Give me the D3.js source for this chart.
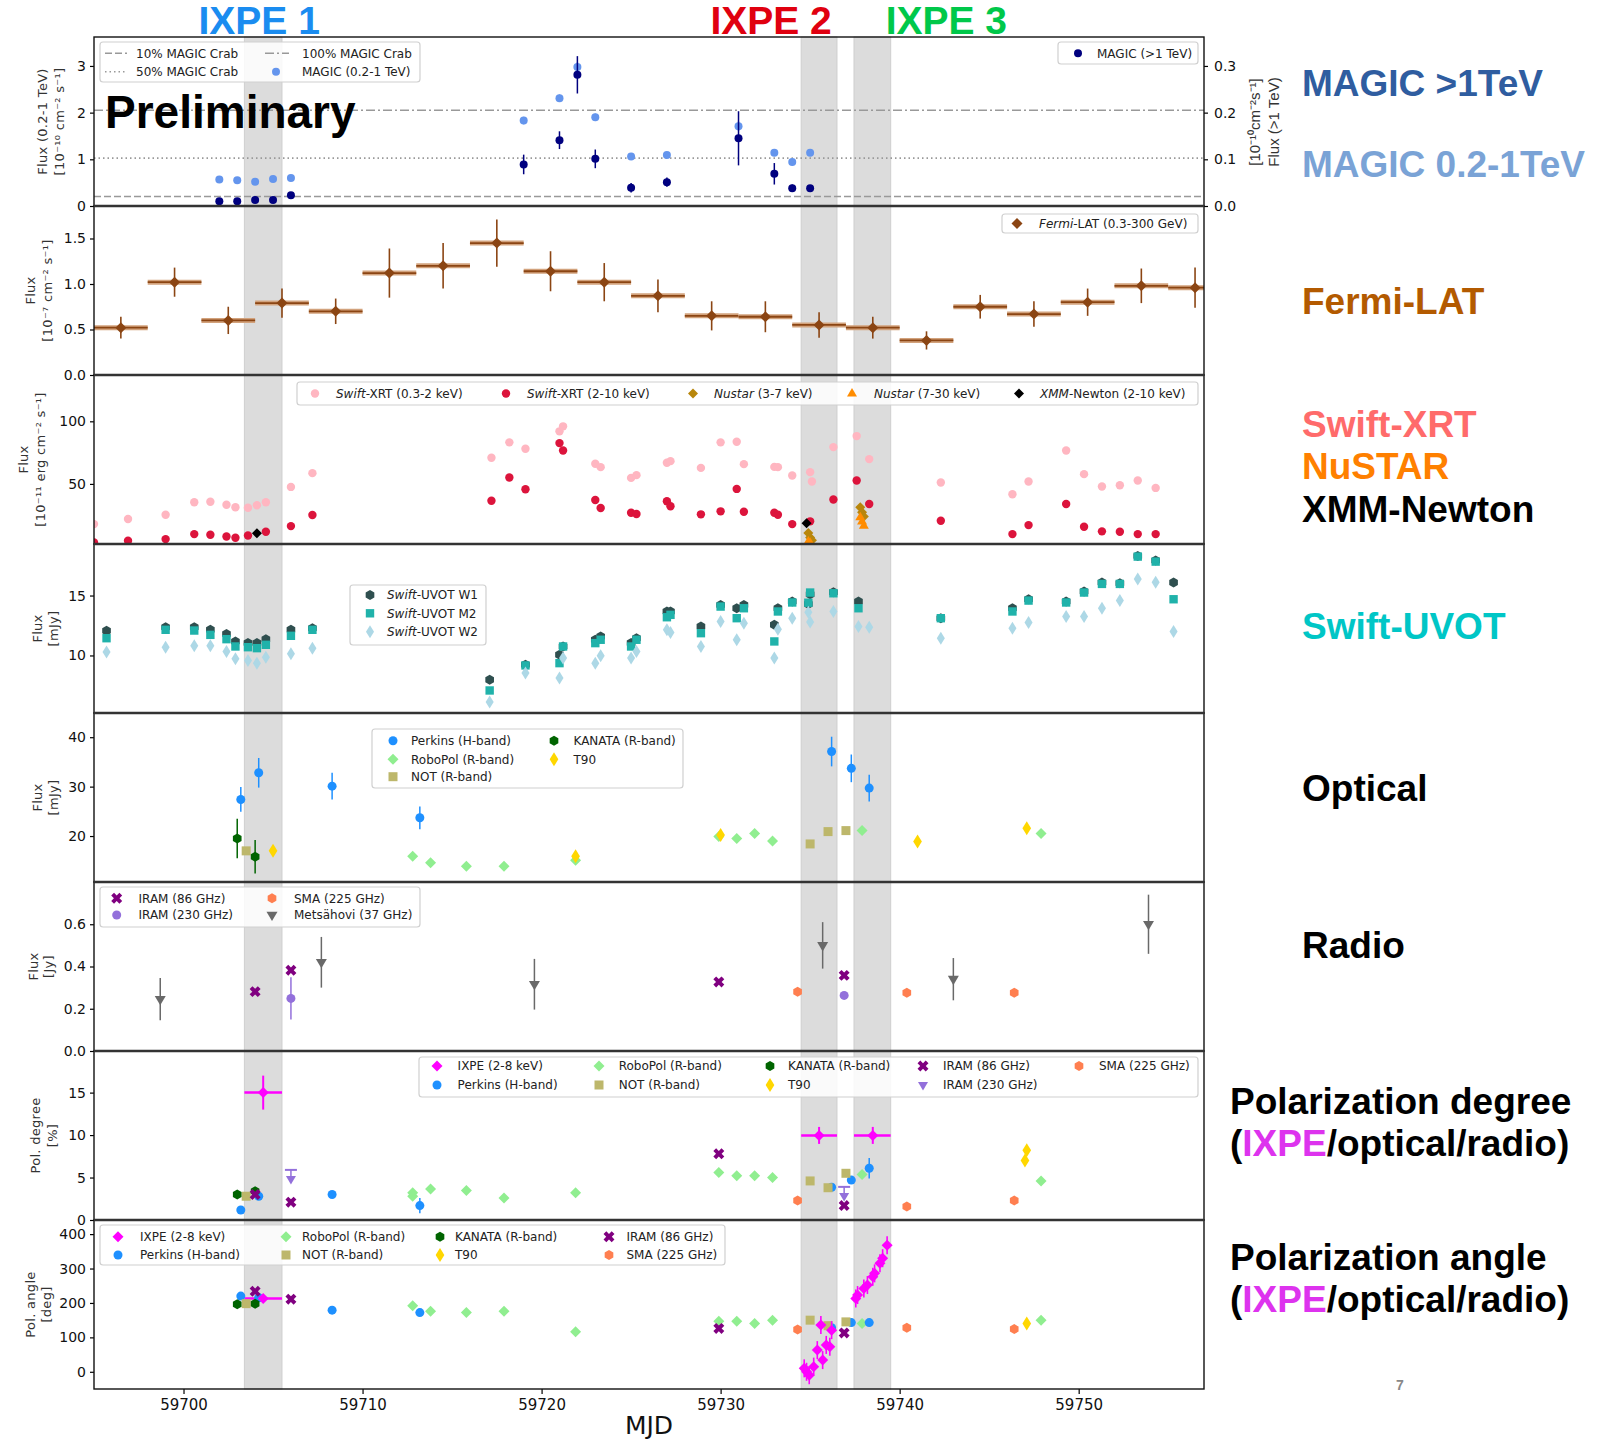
<!DOCTYPE html>
<html><head><meta charset="utf-8">
<script src="https://cdn.jsdelivr.net/npm/d3@7/dist/d3.min.js"></script>
<style>
body{margin:0;background:#fff}
svg{font-family:"DejaVu Sans",sans-serif}
</style>
</head><body>
<svg id="c" width="1598" height="1440"></svg>
<script>
// ---------------- DATA ----------------
const mjdTicks = [59700, 59710, 59720, 59730, 59740, 59750];
const ixpeWindows = [[59703.4, 59705.5], [59734.5, 59736.5], [59737.45, 59739.5]];
const ixpeTitles = ["IXPE 1", "IXPE 2", "IXPE 3"];

// MAGIC 0.2-1 TeV [MJD, flux, err] (1e-10 cm^-2 s^-1)
const magicLow = [[59702,0.57,0.06],[59703,0.55,0.06],[59704,0.52,0.06],[59705,0.58,0.06],[59706,0.60,0.06],
  [59719,1.83,0.08],[59721,2.31,0.08],[59722,2.98,0.1],[59723,1.90,0.08],[59725,1.06,0.06],[59727,1.09,0.06],
  [59731,1.71,0.1],[59733,1.14,0.07],[59734,0.94,0.07],[59735,1.14,0.06]];
// MAGIC >1 TeV [MJD, flux, err] (right axis)
const magicHigh = [[59702,0.010,0.004],[59703,0.010,0.004],[59704,0.013,0.004],[59705,0.013,0.004],[59706,0.023,0.005],
  [59719,0.089,0.021],[59721,0.141,0.019],[59722,0.281,0.040],[59723,0.101,0.020],[59725,0.039,0.010],[59727,0.051,0.010],
  [59731,0.145,0.058],[59733,0.069,0.023],[59734,0.038,0.008],[59735,0.038,0.006]];
const crabLevels = [0.0205, 0.1025, 0.205]; // 10%, 50%, 100% Crab (>1 TeV)
const magicTicks = [0,1,2,3];
const magicRightTicks = [0,0.1,0.2,0.3];

// Fermi-LAT [MJD center, flux, err] (1e-7), bin half width 1.5 d
const fermi = [[59696.5,0.52,0.12],[59699.5,1.02,0.16],[59702.5,0.60,0.15],[59705.5,0.79,0.16],[59708.5,0.70,0.14],
  [59711.5,1.12,0.27],[59714.5,1.20,0.25],[59717.5,1.45,0.26],[59720.5,1.14,0.22],[59723.5,1.02,0.21],[59726.5,0.87,0.18],
  [59729.5,0.65,0.16],[59732.5,0.64,0.17],[59735.5,0.55,0.14],[59738.5,0.52,0.12],[59741.5,0.38,0.10],[59744.5,0.75,0.13],
  [59747.5,0.67,0.14],[59750.5,0.80,0.15],[59753.5,0.98,0.19],[59756.5,0.96,0.22]];
const fermiTicks = [0,0.5,1.0,1.5];

// X-ray [MJD, flux] (1e-11 erg cm^-2 s^-1)
const xrtSoft = [[59695.0,17.9],[59696.9,22.0],[59699.0,25.4],[59700.6,35.3],[59701.5,35.8],[59702.4,33.4],[59702.9,31.3],
  [59703.6,31.0],[59704.1,32.9],[59704.6,35.3],[59706.0,47.6],[59707.2,58.6],[59717.2,70.9],[59718.2,83.2],[59719.1,78.1],
  [59721.0,92.0],[59721.2,96.0],[59723.0,66.1],[59723.3,63.4],[59725.0,54.8],[59725.3,57.0],[59727.0,66.9],[59727.2,68.2],
  [59728.9,62.8],[59730.0,83.2],[59730.9,83.7],[59731.3,65.8],[59733.0,63.6],[59733.2,63.4],[59734.0,56.7],[59735.0,59.4],
  [59735.1,51.9],[59736.3,79.4],[59737.6,88.2],[59738.3,69.8],[59742.3,51.1],[59746.3,41.7],[59747.2,51.9],[59749.3,76.7],
  [59750.3,57.8],[59751.3,47.9],[59752.3,48.9],[59753.3,52.7],[59754.3,46.8]];
const xrtHard = [[59695.0,3.2],[59696.9,4.6],[59699.0,5.9],[59700.6,9.9],[59701.5,9.4],[59702.4,8.0],[59702.9,7.0],
  [59703.6,8.8],[59704.6,11.8],[59706.0,16.3],[59707.2,25.2],[59717.2,36.6],[59718.2,55.1],[59719.1,45.7],[59721.0,82.6],
  [59721.2,76.7],[59723.0,37.2],[59723.3,30.8],[59725.0,27.0],[59725.3,26.0],[59727.0,36.1],[59727.2,32.1],[59728.9,25.7],
  [59730.0,28.1],[59730.9,46.0],[59731.3,27.8],[59733.0,27.0],[59733.2,25.4],[59734.0,17.9],[59735.0,20.1],[59736.3,37.5],
  [59737.6,52.7],[59738.3,34.0],[59742.3,20.6],[59746.3,9.9],[59747.2,17.1],[59749.3,34.0],[59750.3,15.8],[59751.3,12.1],
  [59752.3,11.8],[59753.3,9.9],[59754.3,9.9]];
const nustarSoft = [[59734.9,10.7],[59735.0,7.1],[59735.1,5.0],[59737.8,31.3],[59737.9,27.3],[59738.0,24.0]];
const nustarHard = [[59734.9,4.0],[59735.0,3.0],[59737.8,23.3],[59737.9,20.0],[59738.0,16.6]];
const xmm = [[59704.1,10.5],[59734.8,18.5]];
const xrayTicks = [50,100];

// Swift-UVOT [mJy]
const uvotMJD = [59695.7,59699.0,59700.6,59701.5,59702.4,59702.9,59703.6,59704.1,59704.6,59706.0,59707.2,59717.1,59719.1,
  59721.0,59721.2,59723.0,59723.3,59725.0,59725.3,59727.0,59727.2,59728.9,59730.0,59730.9,59731.3,59733.0,59733.2,59734.0,
  59734.9,59735.0,59736.3,59737.7,59738.3,59742.3,59746.3,59747.2,59749.3,59750.3,59751.3,59752.3,59753.3,59754.3,59755.3];
const uvotW1 = [12.06,12.36,12.36,12.14,11.80,11.17,11.03,11.03,11.36,12.14,12.28,7.97,9.22,10.06,10.75,11.31,11.58,11.03,
  11.44,13.67,13.67,12.42,14.22,13.94,14.22,12.56,13.94,14.50,14.30,15.10,15.28,14.50,null,13.10,13.94,14.69,14.50,15.33,
  16.08,16.03,18.30,17.92,16.08];
const uvotM2 = [11.44,12.14,12.08,11.72,11.36,10.75,10.69,10.61,10.89,11.64,12.14,7.08,9.17,9.36,10.75,11.03,11.31,10.75,
  11.31,13.19,13.39,11.86,14.08,13.11,13.94,11.17,13.67,14.42,14.40,15.25,15.19,13.94,null,13.11,13.67,14.58,14.42,15.25,
  15.97,15.97,18.25,17.83,14.69];
const uvotW2 = [10.28,10.69,10.81,10.81,10.33,9.72,9.58,9.36,9.86,10.14,10.61,6.11,8.53,8.11,9.78,9.36,9.97,9.78,10.33,
  12.14,11.92,10.75,12.83,11.31,12.69,9.78,12.19,13.11,13.60,12.80,13.67,12.42,12.36,11.44,12.28,12.75,13.25,13.25,13.94,
  14.58,16.39,16.11,12.00];
const uvotTicks = [10,15];

// Optical flux [MJD, mJy, err]
const perkinsFlux = [[59703.2,27.4,2.5],[59704.2,32.8,3.0],[59708.3,30.1,2.7],[59713.2,23.7,2.3],[59736.2,37.1,3.0],[59737.3,33.7,2.8],[59738.3,29.7,2.7]];
const kanataFlux = [[59703.0,19.5,4.0],[59704.0,15.8,3.4]];
const notFlux = [[59703.5,17.0],[59735.0,18.4],[59736.0,20.9],[59737.0,21.1]];
const t90Flux = [[59705.0,17.0],[59721.9,15.9],[59730.0,20.2],[59741.0,18.9],[59747.1,21.6]];
const robopolFlux = [[59712.8,15.9],[59713.8,14.6],[59715.8,13.9],[59717.9,13.9],[59721.9,15.1],[59729.9,19.9],[59730.9,19.5],
  [59731.9,20.5],[59732.9,19.0],[59737.9,21.1],[59747.9,20.5]];
const optTicks = [20,30,40];

// Radio [MJD, Jy, err]
const metsahovi = [[59698.7,0.245,0.10],[59707.7,0.42,0.12],[59719.6,0.316,0.12],[59735.7,0.50,0.11],[59743.0,0.34,0.10],[59753.9,0.60,0.14]];
const iram86 = [[59704.0,0.281],[59706.0,0.382],[59729.9,0.327],[59736.9,0.358]];
const iram230 = [[59706.0,0.249,0.10],[59736.9,0.263]];
const sma = [[59734.3,0.281],[59740.4,0.276],[59746.4,0.276]];
const radioTicks = [0,0.2,0.4,0.6];

// Polarization degree [MJD, %, err]
const ixpePD = [[59704.45,15.0,2.0],[59735.5,9.96,1.0],[59738.5,9.96,1.0]];
const perkinsPD = [[59703.2,1.18],[59704.2,2.8],[59708.3,3.0],[59713.2,1.7,0.9],[59736.2,3.86],[59737.3,4.7],[59738.3,6.1,1.2]];
const kanataPD = [[59703.0,3.0],[59704.0,3.4]];
const notPD = [[59703.5,2.8],[59735.0,4.6],[59736.0,3.8],[59737.0,5.5]];
const t90PD = [[59747.0,7.0],[59747.1,8.2]];
const robopolPD = [[59712.8,2.8],[59712.8,3.2],[59713.8,3.66],[59715.8,3.46],[59717.9,2.6],[59721.9,3.2],[59729.9,5.6],
  [59730.9,5.2],[59731.9,5.2],[59732.9,5.0],[59737.9,5.35],[59747.9,4.6]];
const iram86PD = [[59704.0,3.0],[59706.0,2.1],[59729.9,7.8],[59736.9,1.7]];
const iram230PDul = [[59706.0,5.9],[59736.9,3.9]];
const smaPD = [[59734.3,2.3],[59740.4,1.6],[59746.4,2.3]];
const pdTicks = [0,5,10,15];

// Polarization angle [MJD, deg]
const ixpePAwin = [[59704.45,213]];
const ixpePA = [[59734.67,10],[59734.8,0],[59734.95,-10],[59735.2,15],[59735.4,63],[59735.6,136],[59735.7,34],[59735.9,78],
  [59736.1,73],[59736.2,121],[59737.55,213],[59737.65,223],[59738.0,242],[59738.2,252],[59738.5,276],[59738.6,286],
  [59738.9,315],[59739.05,330],[59739.3,368]];
const perkinsPA = [[59703.2,220],[59704.2,215],[59708.3,179],[59713.2,172],[59736.2,128],[59737.3,143],[59738.3,143]];
const kanataPA = [[59703.0,196],[59704.0,198]];
const notPA = [[59703.5,198],[59735.0,150],[59736.0,134],[59737.0,145]];
const t90PA = [[59747.1,140]];
const robopolPA = [[59712.8,192],[59713.8,176],[59715.8,172],[59717.9,176],[59721.9,116],[59729.9,147],[59730.9,147],
  [59731.9,140],[59732.9,150],[59737.9,140],[59747.9,150]];
const iram86PA = [[59704.0,234],[59706.0,211],[59729.9,126],[59736.9,113]];
const smaPA = [[59734.3,123],[59740.4,128],[59746.4,124]];
const paTicks = [0,100,200,300,400];

// ---------------- STYLE / LAYOUT ----------------
const C = {
  magicHigh:"#00007f", magicLow:"#6495ed", fermi:"#8b4513", xrtSoft:"#ffb6c1", xrtHard:"#dc143c",
  nuSoft:"#b8860b", nuHard:"#ff8c00", xmm:"#000000", w1:"#2f4f4f", m2:"#20b2aa", w2:"#add8e6",
  perkins:"#1e90ff", robopol:"#90ee90", not:"#bdb76b", kanata:"#006400", t90:"#ffd700",
  iram86:"#800080", iram230:"#9370db", sma:"#ff7f50", mets:"#696969", ixpe:"#ff00ff"
};
const SANS = "'Liberation Sans', Arial, sans-serif";
const X0 = 94, X1 = 1204, TOP = 37, PH = 169, NP = 8;
const svg = d3.select("#c");
const x = d3.scaleLinear().domain([59695, 59757]).range([X0, X1]);

const domains = [[0,3.62],[0,1.857],[2,137],[5.2,19.3],[10.7,44.9],[0,0.8],[0,19.9],[-50,441]];
const panels = domains.map((dom,i)=>{
  const t = TOP + i*PH, b = t + PH;
  return {t, b, y: d3.scaleLinear().domain(dom).range([b, t])};
});
panels[0].yr = d3.scaleLinear().domain([0, 0.362]).range([panels[0].b, panels[0].t]);

const defs = svg.append("defs");
panels.forEach((p,i)=>{
  defs.append("clipPath").attr("id","clip"+i).append("rect")
    .attr("x",X0).attr("y",p.t).attr("width",X1-X0).attr("height",PH);
});

// IXPE bands
ixpeWindows.forEach(w=>{
  svg.append("rect").attr("x",x(w[0])).attr("y",TOP).attr("width",x(w[1])-x(w[0]))
    .attr("height",PH*NP).attr("fill","#dcdcdc").attr("stroke","#cfcfcf").attr("stroke-width",1);
});

function mpath(type, s){
  let pts;
  switch(type){
    case 'o': return `M${s},0A${s},${s},0,1,1,${-s},0A${s},${s},0,1,1,${s},0Z`;
    case 'D': pts=[[0,-s],[s,0],[0,s],[-s,0]]; break;
    case 'd': pts=[[0,-s],[s*0.62,0],[0,s],[-s*0.62,0]]; break;
    case 's': pts=[[-s,-s],[s,-s],[s,s],[-s,s]]; break;
    case 'v': pts=[[-s,-s*0.6],[s,-s*0.6],[0,s*1.1]]; break;
    case '^': pts=[[-s,s*0.6],[s,s*0.6],[0,-s*1.1]]; break;
    case 'h': pts=d3.range(6).map(k=>{const a=Math.PI/2+k*Math.PI/3; return [s*Math.cos(a), s*Math.sin(a)];}); break;
    case 'X': {
      const a=s*0.36, r=s*1.05;
      const plus=[[-a,-r],[a,-r],[a,-a],[r,-a],[r,a],[a,a],[a,r],[-a,r],[-a,a],[-r,a],[-r,-a],[-a,-a]];
      const c=Math.SQRT1_2; pts=plus.map(([u,v])=>[u*c-v*c, u*c+v*c]); break;
    }
  }
  return "M"+pts.map(p=>p[0].toFixed(2)+","+p[1].toFixed(2)).join("L")+"Z";
}
function marker(g, type, cx, cy, s, color){
  g.append("path").attr("d", mpath(type,s)).attr("transform",`translate(${cx},${cy})`).attr("fill",color);
}
function seg(g, x1,y1,x2,y2,color,w){
  g.append("line").attr("x1",x1).attr("y1",y1).attr("x2",x2).attr("y2",y2)
    .attr("stroke",color).attr("stroke-width",w||1.5);
}
function series(g, ys, data, type, s, color, opt){
  opt = opt||{};
  data.forEach(d=>{
    if(d[1]===null || d[1]===undefined) return;
    const cx=x(d[0]), cy=ys(d[1]);
    if(d[2]) seg(g, cx, ys(d[1]-d[2]), cx, ys(d[1]+d[2]), color, opt.ew||1.5);
    marker(g, type, cx, cy, s, color);
  });
}

const G = panels.map((p,i)=> svg.append("g").attr("clip-path",`url(#clip${i})`));

// ----- Panel 1: MAGIC
const p0 = panels[0];
const crabDash = ["7,3","1.5,3","9,3,2,3"];
crabLevels.forEach((v,i)=>{
  G[0].append("line").attr("x1",X0).attr("x2",X1).attr("y1",p0.yr(v)).attr("y2",p0.yr(v))
    .attr("stroke","#999").attr("stroke-width",1.6).attr("stroke-dasharray",crabDash[i]);
});
series(G[0], p0.y, magicLow, 'o', 4, C.magicLow);
series(G[0], p0.yr, magicHigh, 'o', 4, C.magicHigh);

// ----- Panel 2: Fermi
const p1 = panels[1];
fermi.forEach(d=>{
  const cy=p1.y(d[1]);
  seg(G[1], x(d[0]-1.5), cy, x(d[0]+1.5), cy, "#d2a27c", 5);
  seg(G[1], x(d[0]-1.5), cy, x(d[0]+1.5), cy, C.fermi, 1.8);
  seg(G[1], x(d[0]), p1.y(d[1]-d[2]), x(d[0]), p1.y(d[1]+d[2]), C.fermi, 1.6);
  marker(G[1], 'D', x(d[0]), cy, 5.5, C.fermi);
});

// ----- Panel 3: X-ray
const p2 = panels[2];
series(G[2], p2.y, xrtSoft, 'o', 4.2, C.xrtSoft);
series(G[2], p2.y, xrtHard, 'o', 4.2, C.xrtHard);
series(G[2], p2.y, nustarSoft, 'D', 5, C.nuSoft);
series(G[2], p2.y, nustarHard, '^', 5, C.nuHard);
series(G[2], p2.y, xmm, 'D', 5, C.xmm);

// ----- Panel 4: UVOT
const p3 = panels[3];
series(G[3], p3.y, uvotMJD.map((m,i)=>[m,uvotW1[i]]), 'h', 5, C.w1);
series(G[3], p3.y, uvotMJD.map((m,i)=>[m,uvotM2[i]]), 's', 4.2, C.m2);
series(G[3], p3.y, uvotMJD.map((m,i)=>[m,uvotW2[i]]), 'd', 6.5, C.w2);

// ----- Panel 5: optical
const p4 = panels[4];
series(G[4], p4.y, perkinsFlux, 'o', 4.5, C.perkins);
series(G[4], p4.y, robopolFlux, 'D', 5.5, C.robopol);
series(G[4], p4.y, notFlux, 's', 4.5, C.not);
series(G[4], p4.y, kanataFlux, 'h', 5, C.kanata);
series(G[4], p4.y, t90Flux, 'd', 7, C.t90);

// ----- Panel 6: radio
const p5 = panels[5];
series(G[5], p5.y, metsahovi, 'v', 5.5, C.mets);
series(G[5], p5.y, iram86, 'X', 5.5, C.iram86);
series(G[5], p5.y, iram230, 'o', 4.5, C.iram230);
series(G[5], p5.y, sma, 'h', 5, C.sma);

// ----- Panel 7: pol degree
const p6 = panels[6];
ixpePD.forEach((d,i)=>{
  const w=ixpeWindows[i], cy=p6.y(d[1]);
  seg(G[6], x(w[0]), cy, x(w[1]), cy, C.ixpe, 2.5);
});
series(G[6], p6.y, ixpePD, 'D', 5.5, C.ixpe, {ew:2});
series(G[6], p6.y, robopolPD, 'D', 5.5, C.robopol);
series(G[6], p6.y, perkinsPD, 'o', 4.5, C.perkins);
series(G[6], p6.y, notPD, 's', 4.5, C.not);
series(G[6], p6.y, kanataPD, 'h', 5, C.kanata);
series(G[6], p6.y, t90PD, 'd', 7, C.t90);
series(G[6], p6.y, iram86PD, 'X', 5.5, C.iram86);
iram230PDul.forEach(d=>{
  const cx=x(d[0]), cy=p6.y(d[1]);
  seg(G[6], cx-6, cy, cx+6, cy, C.iram230, 2);
  seg(G[6], cx, cy, cx, cy+9, C.iram230, 1.5);
  marker(G[6], 'v', cx, cy+9, 5, C.iram230);
});
series(G[6], p6.y, smaPD, 'h', 5, C.sma);

// ----- Panel 8: pol angle
const p7 = panels[7];
ixpePAwin.forEach(d=>{
  const w=ixpeWindows[0], cy=p7.y(d[1]);
  seg(G[7], x(w[0]), cy, x(w[1]), cy, C.ixpe, 2.5);
});
series(G[7], p7.y, robopolPA, 'D', 5.5, C.robopol);
series(G[7], p7.y, perkinsPA, 'o', 4.5, C.perkins);
series(G[7], p7.y, notPA, 's', 4.5, C.not);
series(G[7], p7.y, kanataPA, 'h', 5, C.kanata);
series(G[7], p7.y, t90PA, 'd', 7, C.t90);
series(G[7], p7.y, iram86PA, 'X', 5.5, C.iram86);
series(G[7], p7.y, smaPA, 'h', 5, C.sma);
series(G[7], p7.y, ixpePAwin, 'D', 5.5, C.ixpe);
ixpePA.forEach(d=>{
  const cx=x(d[0]), cy=p7.y(d[1]);
  seg(G[7], cx, cy-9, cx, cy+9, C.ixpe, 1.6);
  seg(G[7], cx-3, cy, cx+3, cy, C.ixpe, 1.6);
  marker(G[7], 'D', cx, cy, 5.5, C.ixpe);
});

// ---------------- AXES / FRAMES ----------------
const tickSets = [
  [magicTicks, d3.format("d")], [fermiTicks, d3.format(".1f")], [xrayTicks, d3.format("d")], [uvotTicks, d3.format("d")],
  [optTicks, d3.format("d")], [radioTicks, d3.format(".1f")], [pdTicks, d3.format("d")], [paTicks, d3.format("d")]
];
function styleAxis(a){
  a.attr("font-family",null).attr("font-size",null);
  a.select(".domain").remove();
  a.selectAll(".tick line").attr("stroke","#000").attr("stroke-width",1.2);
  a.selectAll(".tick text").attr("font-size",14).attr("fill","#111");
}
panels.forEach((p,i)=>{
  const a = svg.append("g").attr("transform",`translate(${X0},0)`)
    .call(d3.axisLeft(p.y).tickValues(tickSets[i][0]).tickFormat(tickSets[i][1]).tickSize(4).tickPadding(4));
  styleAxis(a);
});
const ar = svg.append("g").attr("transform",`translate(${X1},0)`)
  .call(d3.axisRight(panels[0].yr).tickValues(magicRightTicks).tickFormat(d3.format(".1f")).tickSize(4).tickPadding(6));
styleAxis(ar);
const ax = svg.append("g").attr("transform",`translate(0,${panels[7].b})`)
  .call(d3.axisBottom(x).tickValues(mjdTicks).tickFormat(d3.format("d")).tickSize(5).tickPadding(5));
styleAxis(ax);
ax.selectAll(".tick text").attr("font-size",15);

panels.forEach(p=>{
  svg.append("rect").attr("x",X0).attr("y",p.t).attr("width",X1-X0).attr("height",PH)
    .attr("fill","none").attr("stroke","#111").attr("stroke-width",1.4);
});
panels.slice(1).forEach(p=> seg(svg, X0, p.t, X1, p.t, "#333", 2.4));

// y labels
const yLabels = [
  ["Flux (0.2-1 TeV)","[10⁻¹⁰ cm⁻² s⁻¹]",42,59],
  ["Flux","[10⁻⁷ cm⁻² s⁻¹]",30,47],
  ["Flux","[10⁻¹¹ erg cm⁻² s⁻¹]",23,40],
  ["Flux","[mJy]",37,53],
  ["Flux","[mJy]",37,53],
  ["Flux","[Jy]",33,48],
  ["Pol. degree","[%]",35,52],
  ["Pol. angle","[deg]",30,46]
];
yLabels.forEach((l,i)=>{
  const cy=(panels[i].t+panels[i].b)/2;
  [[l[0],l[2]],[l[1],l[3]]].forEach(([txt,xx])=>{
    svg.append("text").attr("transform",`translate(${xx},${cy}) rotate(-90)`).attr("text-anchor","middle")
      .attr("dy","0.35em").attr("font-size",13).attr("fill","#333").attr("letter-spacing",0.3).text(txt);
  });
});
[["[10⁻¹⁰cm⁻²s⁻¹]",1255],["Flux (>1 TeV)",1274]].forEach(([txt,xx])=>{
  svg.append("text").attr("transform",`translate(${xx},122) rotate(-90)`).attr("text-anchor","middle")
    .attr("dy","0.35em").attr("font-size",15).style("font-family",SANS).attr("fill","#333").text(txt);
});
svg.append("text").attr("x",649).attr("y",1434).attr("text-anchor","middle").attr("font-size",25).attr("fill","#111").text("MJD");

// ---------------- LEGENDS ----------------
function legendBox(x0,y0,x1,y1){
  svg.append("rect").attr("x",x0).attr("y",y0).attr("width",x1-x0).attr("height",y1-y0).attr("rx",3)
    .attr("fill","#fff").attr("fill-opacity",0.85).attr("stroke","#d0d0d0").attr("stroke-width",1.2);
}
function legText(tx, ty, label){
  const t = svg.append("text").attr("x",tx).attr("y",ty).attr("dy","0.35em").attr("font-size",12).attr("fill","#222");
  label.split("*").forEach((part,k)=>{ if(part) t.append("tspan").attr("font-style", k%2? "italic":"normal").text(part); });
}
function legItem(mx,tx,ty,type,s,color,label){
  marker(svg,type,mx,ty,s,color); legText(tx,ty,label);
}
function legLine(x0,x1,tx,ty,dash,label){
  svg.append("line").attr("x1",x0).attr("x2",x1).attr("y1",ty).attr("y2",ty).attr("stroke","#999")
    .attr("stroke-width",1.6).attr("stroke-dasharray",dash);
  legText(tx,ty,label);
}
legendBox(100,42,420,82);
legLine(105,127,136,53.3,crabDash[0],"10% MAGIC Crab");
legLine(265,289,302,53.3,crabDash[2],"100% MAGIC Crab");
legLine(105,127,136,71.7,crabDash[1],"50% MAGIC Crab");
legItem(276,302,71.7,'o',4,C.magicLow,"MAGIC (0.2-1 TeV)");
legendBox(1058,42,1198,64);
legItem(1078,1097,53.3,'o',4,C.magicHigh,"MAGIC (>1 TeV)");
legendBox(1002,214,1198,233);
legItem(1017,1039,223.5,'D',5.5,C.fermi,"*Fermi*-LAT (0.3-300 GeV)");
legendBox(297,382,1198,405);
legItem(315,336,393.5,'o',4.2,C.xrtSoft,"*Swift*-XRT (0.3-2 keV)");
legItem(506,527,393.5,'o',4.2,C.xrtHard,"*Swift*-XRT (2-10 keV)");
legItem(693,714,393.5,'D',5,C.nuSoft,"*Nustar* (3-7 keV)");
legItem(852,874,393.5,'^',5,C.nuHard,"*Nustar* (7-30 keV)");
legItem(1019,1040,393.5,'D',5,C.xmm,"*XMM*-Newton (2-10 keV)");
legendBox(350,585,486,645);
legItem(370,387,595,'h',5,C.w1,"*Swift*-UVOT W1");
legItem(370,387,613.3,'s',4.2,C.m2,"*Swift*-UVOT M2");
legItem(370,387,631.7,'d',6.5,C.w2,"*Swift*-UVOT W2");
legendBox(372,729,683,788);
legItem(393,411,740.7,'o',4.5,C.perkins,"Perkins (H-band)");
legItem(393,411,759.3,'D',5.5,C.robopol,"RoboPol (R-band)");
legItem(393,411,776.7,'s',4.5,C.not,"NOT (R-band)");
legItem(554,573.5,740.7,'h',5,C.kanata,"KANATA (R-band)");
legItem(554,573.5,759.3,'d',7,C.t90,"T90");
legendBox(100,887,420,927);
legItem(116.7,138.5,898.3,'X',5.5,C.iram86,"IRAM (86 GHz)");
legItem(116.7,138.5,915,'o',4.5,C.iram230,"IRAM (230 GHz)");
legItem(272,294,898.3,'h',5,C.sma,"SMA (225 GHz)");
legItem(272,294,915,'v',5.5,C.mets,"Metsähovi (37 GHz)");
legendBox(419,1057,1198,1097);
legItem(437,457.6,1066,'D',5.5,C.ixpe,"IXPE (2-8 keV)");
legItem(437,457.6,1085,'o',4.5,C.perkins,"Perkins (H-band)");
legItem(599,618.7,1066,'D',5.5,C.robopol,"RoboPol (R-band)");
legItem(599,618.7,1085,'s',4.5,C.not,"NOT (R-band)");
legItem(770,788,1066,'h',5,C.kanata,"KANATA (R-band)");
legItem(770,788,1085,'d',7,C.t90,"T90");
legItem(923,943,1066,'X',5.5,C.iram86,"IRAM (86 GHz)");
legItem(923,943,1085,'v',5,C.iram230,"IRAM (230 GHz)");
legItem(1079,1099,1066,'h',5,C.sma,"SMA (225 GHz)");
legendBox(100,1225,725,1265);
legItem(118,140,1236.7,'D',5.5,C.ixpe,"IXPE (2-8 keV)");
legItem(118,140,1255,'o',4.5,C.perkins,"Perkins (H-band)");
legItem(286,302,1236.7,'D',5.5,C.robopol,"RoboPol (R-band)");
legItem(286,302,1255,'s',4.5,C.not,"NOT (R-band)");
legItem(440,455,1236.7,'h',5,C.kanata,"KANATA (R-band)");
legItem(440,455,1255,'d',7,C.t90,"T90");
legItem(609,626.5,1236.7,'X',5.5,C.iram86,"IRAM (86 GHz)");
legItem(609,626.5,1255,'h',5,C.sma,"SMA (225 GHz)");

// ---------------- ANNOTATIONS ----------------
svg.append("text").attr("x",105).attr("y",128).style("font-family",SANS).attr("font-weight","bold")
  .attr("font-size",46).attr("fill","#000").text("Preliminary");
const titleColors = ["#1a8cf0","#e0000f","#00c84a"];
const titleShift = [-4, -48, 74];
ixpeWindows.forEach((w,i)=>{
  svg.append("text").attr("x",(x(w[0])+x(w[1]))/2 + titleShift[i]).attr("y",34).attr("text-anchor","middle")
    .style("font-family",SANS).attr("font-weight","bold").attr("font-size",39)
    .attr("fill",titleColors[i]).text(ixpeTitles[i]);
});
const rightLabels = [
  ["MAGIC >1TeV","#2f5da0",1302,96],["MAGIC 0.2-1TeV","#7aa3d6",1302,177],["Fermi-LAT","#b35a00",1302,314],
  ["Swift-XRT","#ff6b6b",1302,437],["NuSTAR","#ff8000",1302,479],["XMM-Newton","#000",1302,522],
  ["Swift-UVOT","#00c6c6",1302,639],["Optical","#000",1302,801],["Radio","#000",1302,958]
];
rightLabels.forEach(([t,c,xx,yy])=>{
  svg.append("text").attr("x",xx).attr("y",yy).style("font-family",SANS).attr("font-weight","bold")
    .attr("font-size",37).attr("fill",c).text(t);
});
[["Polarization degree",1114],["Polarization angle",1270]].forEach(([t,yy])=>{
  svg.append("text").attr("x",1230).attr("y",yy).style("font-family",SANS).attr("font-weight","bold")
    .attr("font-size",37).attr("fill","#000").text(t);
  const t2 = svg.append("text").attr("x",1230).attr("y",yy+42).style("font-family",SANS).attr("font-weight","bold")
    .attr("font-size",37).attr("fill","#000");
  t2.append("tspan").text("(");
  t2.append("tspan").attr("fill","#dd33ee").text("IXPE");
  t2.append("tspan").text("/optical/radio)");
});
svg.append("text").attr("x",1400).attr("y",1390).attr("text-anchor","middle").style("font-family",SANS)
  .attr("font-weight","bold").attr("font-size",14).attr("fill","#888").text("7");
</script>
</body></html>
